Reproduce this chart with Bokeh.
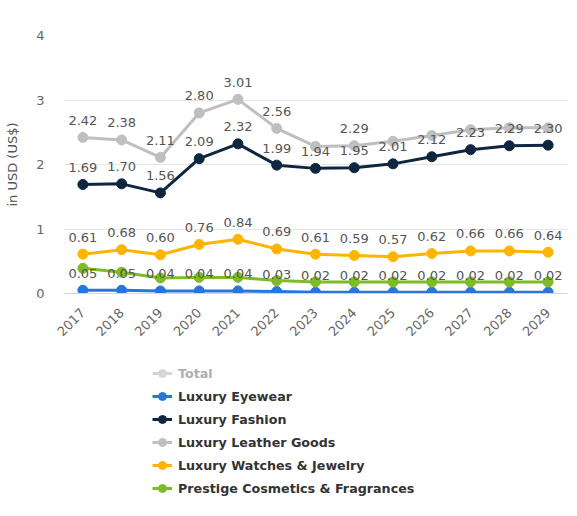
import math
from bokeh.plotting import figure
from bokeh.layouts import column
from bokeh.models import (FactorRange, Range1d, FixedTicker, Legend, LegendItem,
                          ColumnDataSource)
from bokeh.embed import file_html
from bokeh.resources import INLINE
from bokeh.core.properties import value

years = ["2017", "2018", "2019", "2020", "2021", "2022", "2023",
         "2024", "2025", "2026", "2027", "2028", "2029"]

total = [5.16, 5.14, 4.55, 5.94, 6.46, 5.47, 5.03, 5.03, 5.14, 5.39, 5.63, 5.72, 5.71]
eyewear = [0.05, 0.05, 0.04, 0.04, 0.04, 0.03, 0.02, 0.02, 0.02, 0.02, 0.02, 0.02, 0.02]
fashion = [1.69, 1.70, 1.56, 2.09, 2.32, 1.99, 1.94, 1.95, 2.01, 2.12, 2.23, 2.29, 2.30]
leather = [2.42, 2.38, 2.11, 2.80, 3.01, 2.56, 2.28, 2.29, 2.36, 2.45, 2.54, 2.57, 2.57]
watches = [0.61, 0.68, 0.60, 0.76, 0.84, 0.69, 0.61, 0.59, 0.57, 0.62, 0.66, 0.66, 0.64]
cosmetics = [0.39, 0.33, 0.24, 0.25, 0.25, 0.20, 0.18, 0.18, 0.18, 0.18, 0.18, 0.18, 0.18]

# which data labels are visible (others hidden by label collision in the original)
leather_label_shown = [True, True, True, True, True, True, False,
                       True, False, False, False, False, False]

series_names = ["Total", "Luxury Eyewear", "Luxury Fashion", "Luxury Leather Goods",
                "Luxury Watches & Jewelry", "Prestige Cosmetics & Fragrances"]
series_values = [total, eyewear, fashion, leather, watches, cosmetics]
series_colors = ["#9a9a9a", "#2876dd", "#0f2641", "#bfbfbf", "#ffb400", "#7fba27"]

FONT = "DejaVu Sans"

p = figure(width=569, height=360,
           x_range=FactorRange(factors=years, range_padding=0),
           y_range=Range1d(0, 4),
           output_backend="svg", toolbar_location=None,
           min_border_left=63, min_border_right=2,
           min_border_top=35, min_border_bottom=67)
p.outline_line_color = None
p.background_fill_color = "white"
p.border_fill_color = "white"

p.xgrid.grid_line_color = None
p.ygrid.grid_line_color = "#e6e6e6"
p.ygrid.grid_line_width = 1

p.yaxis.ticker = FixedTicker(ticks=[0, 1, 2, 3, 4])
p.yaxis.axis_line_color = None
p.yaxis.major_tick_line_color = None
p.yaxis.minor_tick_line_color = None
p.yaxis.major_tick_out = 0
p.yaxis.major_label_standoff = 19
p.yaxis.major_label_text_font = FONT
p.yaxis.major_label_text_font_size = "13px"
p.yaxis.major_label_text_color = "#666666"
p.yaxis.axis_label = "in USD (US$)"
p.yaxis.axis_label_text_font = FONT
p.yaxis.axis_label_text_font_size = "13px"
p.yaxis.axis_label_text_font_style = "normal"
p.yaxis.axis_label_text_color = "#555555"
p.yaxis.axis_label_standoff = 13

p.xaxis.axis_line_color = "#ccd6eb"
p.xaxis.axis_line_width = 1
p.xaxis.major_tick_line_color = None
p.xaxis.minor_tick_line_color = None
p.xaxis.major_tick_out = 0
p.xaxis.major_label_orientation = math.pi / 4
p.xaxis.major_label_standoff = 17
p.xaxis.major_label_text_font = FONT
p.xaxis.major_label_text_font_size = "13px"
p.xaxis.major_label_text_color = "#666666"

# legend panel: a second figure whose renderers only serve as legend swatches
q = figure(width=569, height=140,
           x_range=FactorRange(factors=years, range_padding=0),
           y_range=Range1d(100, 101),
           output_backend="svg", toolbar_location=None,
           x_axis_location=None, y_axis_location=None,
           min_border_left=63, min_border_right=2,
           min_border_top=3, min_border_bottom=0)
q.outline_line_color = None
q.grid.visible = False

items = []
for name, vals, col in zip(series_names, series_values, series_colors):
    src = ColumnDataSource(dict(x=years, y=vals))
    ln = p.line("x", "y", source=src, line_color=col, line_width=3)
    pts = p.scatter("x", "y", source=src, size=10, fill_color=col, line_color=col)
    lq = q.line("x", "y", source=src, line_color=col, line_width=3)
    sq = q.scatter("x", "y", source=src, size=10, fill_color=col, line_color=col)
    if name == "Total":
        for r in (ln, pts, lq, sq):
            r.visible = False
    items.append(LegendItem(label=name, renderers=[lq, sq]))

# data labels (drawn on top of all lines)
label_series = [
    (eyewear, [True] * len(years)),
    (fashion, [True] * len(years)),
    (leather, leather_label_shown),
    (watches, [True] * len(years)),
]
for vals, shown in label_series:
    txt = [f"{v:.2f}" if s else "" for v, s in zip(vals, shown)]
    src = ColumnDataSource(dict(x=years, y=vals, t=txt))
    p.text("x", "y", text="t", source=src, text_align="center",
           text_baseline="middle", y_offset=-17,
           text_font=value(FONT), text_font_size="13px",
           text_color="#555555")

legend = Legend(items=items, location=(89, 2), orientation="vertical",
                click_policy="hide", background_fill_alpha=0,
                border_line_color=None, padding=0, margin=0, spacing=3,
                label_height=20, glyph_height=20, glyph_width=20,
                label_standoff=6, label_text_font=FONT,
                label_text_font_size="12.7px", label_text_font_style="bold",
                label_text_color="#333333",
                inactive_fill_color="white", inactive_fill_alpha=0.6)
q.add_layout(legend)

layout = column(p, q, spacing=0)
open("out.html", "w").write(file_html(layout, INLINE))
